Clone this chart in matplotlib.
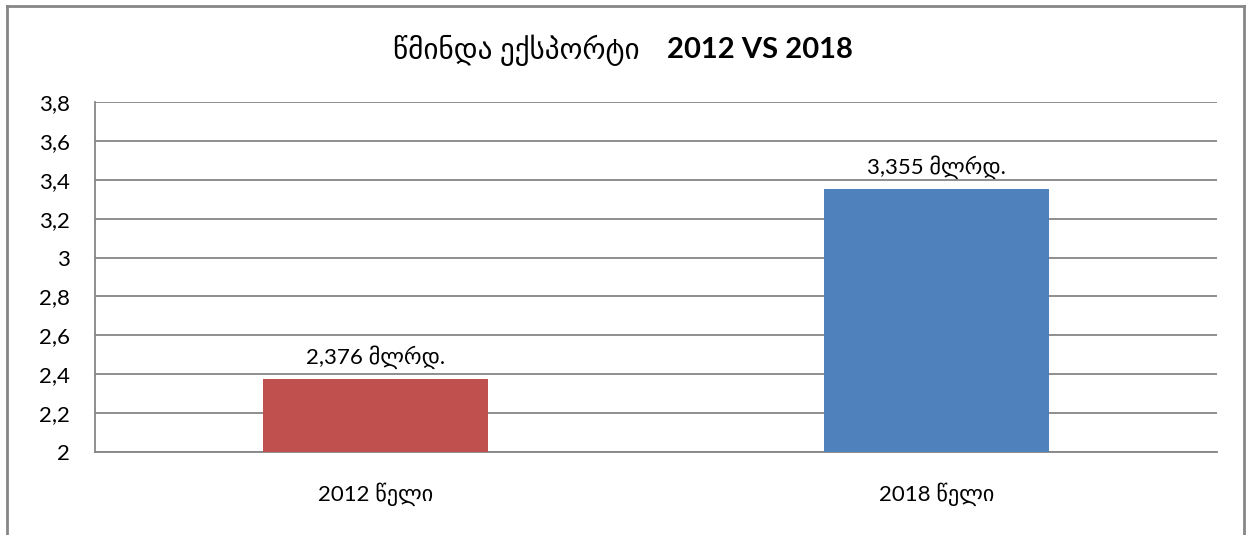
import numpy as np
import matplotlib
matplotlib.use('Agg')
import matplotlib.pyplot as plt
from matplotlib.ticker import MultipleLocator, FuncFormatter
from matplotlib.lines import Line2D

# data
categories = ['2012 წელი', '2018 წელი']
values = [2.376, 3.355]
value_labels = ['2,376 მლრდ.', '3,355 მლრდ.']
bar_colors = ['#C0504D', '#4F81BD']
title_geo = 'წმინდა ექსპორტი'
title_num = '2012 VS 2018'

plt.rcParams['font.family'] = ['Lato', 'DejaVu Sans']
GRID = '#868686'
FS = 16

fig = plt.figure(figsize=(12.51, 5.35), dpi=100)
ax = fig.add_axes([0.0759, 0.155, 0.8969, 0.6543])

x = np.arange(len(categories))
ax.bar(x, [v - 2 for v in values], bottom=2, width=0.4, color=bar_colors, zorder=3)

for xi, v, lab in zip(x, values, value_labels):
    ax.annotate(lab, (xi, v), xytext=(0, 7), textcoords='offset points',
                ha='center', va='bottom', fontsize=FS, color='black')

ax.set_xlim(-0.5, 1.5)
ax.set_ylim(2, 3.8)
ax.yaxis.set_major_locator(MultipleLocator(0.2))
ax.yaxis.set_major_formatter(FuncFormatter(lambda v, p: ('%g' % round(v, 2)).replace('.', ',')))
ax.set_xticks(x)
ax.set_xticklabels(categories)
ax.tick_params(axis='x', length=0, pad=22, labelsize=FS)
ax.tick_params(axis='y', length=0, pad=18, labelsize=FS)

ax.grid(axis='y', color=GRID, linewidth=1.3, zorder=0)
for s in ['top', 'right']:
    ax.spines[s].set_visible(False)
for s in ['left', 'bottom']:
    ax.spines[s].set_color(GRID)
    ax.spines[s].set_linewidth(1.3)

# title: georgian part regular, numbers bold
fig.text(0.5116, 0.906, title_geo, ha='right', va='center', fontsize=21)
fig.text(0.533, 0.906, title_num, ha='left', va='center', fontsize=21, fontweight='bold')

# outer chart border (no bottom edge in the crop)
W, H = 1251, 535
for xs, ys in [([7/W, 7/W], [0, 1 - 6/H]), ([7/W, 1244/W], [1 - 6/H, 1 - 6/H]),
               ([1244/W, 1244/W], [1 - 6/H, 0])]:
    fig.add_artist(Line2D(xs, ys, color=GRID, linewidth=2))

fig.savefig('out.png', dpi=100)
